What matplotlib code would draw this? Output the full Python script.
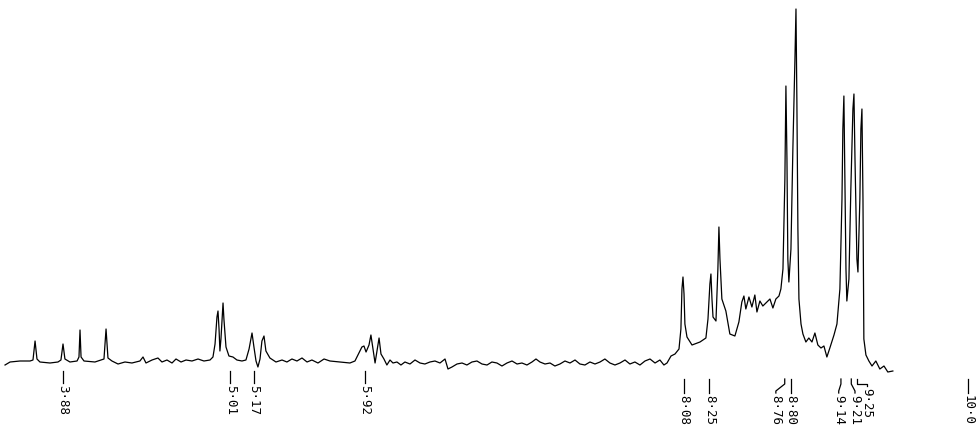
import matplotlib
matplotlib.use("Agg")
import matplotlib.pyplot as plt

# spectrum trace: chemical shift (ppm) and intensity (baseline = 0)
shift = [3.488, 3.522, 3.589, 3.657, 3.677, 3.691, 3.704, 3.724, 3.792, 3.846,
         3.866, 3.880, 3.893, 3.927, 3.975, 3.988, 3.995, 4.002, 4.022, 4.096,
         4.157, 4.171, 4.184, 4.211, 4.252, 4.299, 4.346, 4.400, 4.421, 4.441,
         4.482, 4.522, 4.549, 4.583, 4.617, 4.644, 4.678, 4.712, 4.752, 4.793,
         4.833, 4.874, 4.894, 4.908, 4.921, 4.928, 4.935, 4.941, 4.948, 4.962,
         4.968, 4.982, 5.002, 5.029, 5.056, 5.090, 5.117, 5.138, 5.158, 5.171,
         5.185, 5.198, 5.212, 5.225, 5.239, 5.252, 5.279, 5.320, 5.361, 5.394,
         5.428, 5.462, 5.496, 5.530, 5.563, 5.604, 5.645, 5.685, 5.753, 5.820,
         5.854, 5.874, 5.901, 5.915, 5.929, 5.949, 5.962, 5.976, 5.990, 6.003,
         6.017, 6.030, 6.050, 6.070, 6.091, 6.111, 6.138, 6.165, 6.192, 6.226,
         6.260, 6.294, 6.327, 6.361, 6.395, 6.429, 6.463, 6.483, 6.510, 6.544,
         6.578, 6.611, 6.645, 6.679, 6.713, 6.747, 6.780, 6.814, 6.848, 6.882,
         6.916, 6.950, 6.983, 7.017, 7.051, 7.078, 7.105, 7.139, 7.173, 7.206,
         7.240, 7.274, 7.308, 7.342, 7.375, 7.409, 7.443, 7.477, 7.511, 7.544,
         7.578, 7.612, 7.646, 7.680, 7.713, 7.747, 7.781, 7.815, 7.849, 7.883,
         7.916, 7.943, 7.964, 7.991, 8.018, 8.045, 8.058, 8.065, 8.072, 8.079,
         8.085, 8.099, 8.133, 8.187, 8.227, 8.241, 8.254, 8.261, 8.268, 8.275,
         8.295, 8.308, 8.315, 8.322, 8.335, 8.362, 8.389, 8.423, 8.450, 8.470,
         8.484, 8.497, 8.518, 8.538, 8.558, 8.572, 8.592, 8.612, 8.633, 8.660,
         8.680, 8.700, 8.721, 8.734, 8.748, 8.761, 8.768, 8.775, 8.781, 8.788,
         8.802, 8.815, 8.829, 8.836, 8.842, 8.849, 8.856, 8.870, 8.883, 8.903,
         8.923, 8.944, 8.964, 8.984, 9.005, 9.025, 9.045, 9.065, 9.093, 9.113,
         9.133, 9.147, 9.153, 9.160, 9.167, 9.174, 9.180, 9.194, 9.207, 9.221,
         9.228, 9.235, 9.248, 9.255, 9.268, 9.275, 9.282, 9.289, 9.295, 9.309,
         9.329, 9.350, 9.376, 9.403, 9.431, 9.457, 9.491]
intensity = [-4, -1, 0, 0, 1, 20, 2, -1, -2, -1,
             1, 17, 2, -1, 0, 4, 31, 4, 0, -1,
             2, 32, 3, 0, -3, -1, -2, 0, 4, -2,
             1, 3, -1, 1, -2, 2, -1, 1, 0, 2,
             0, 1, 4, 17, 44, 50, 32, 10, 22, 58,
             42, 14, 5, 4, 1, 0, 1, 12, 28, 14,
             0, -6, 2, 20, 25, 10, 3, -1, 1, -1,
             2, 0, 3, -1, 1, -2, 2, 0, -1, -2,
             0, 6, 14, 15, 9, 16, 26, 12, -2, 10,
             23, 7, 2, -4, 1, -2, -1, -4, -1, -3,
             1, -2, -3, -1, 0, -2, 2, -8, -6, -3,
             -2, -4, -1, 0, -3, -4, -1, -2, -5, -2,
             0, -3, -2, -4, -1, 2, -1, -3, -2, -5,
             -3, 0, -2, 1, -3, -4, -1, -3, -1, 2,
             -2, -4, -2, 1, -3, -1, -4, 0, 2, -2,
             1, -4, -2, 5, 7, 12, 32, 72, 84, 67,
             37, 24, 16, 19, 23, 42, 77, 87, 62, 44,
             40, 92, 134, 102, 62, 50, 27, 25, 39, 59,
             65, 52, 64, 54, 66, 49, 60, 55, 58, 62,
             53, 62, 65, 72, 92, 182, 275, 202, 102, 79,
             112, 212, 302, 352, 262, 132, 62, 37, 27, 19,
             23, 19, 28, 16, 13, 15, 4, 13, 26, 37,
             72, 162, 232, 265, 182, 92, 60, 82, 172, 252,
             267, 202, 102, 89, 162, 232, 252, 162, 22, 6,
             0, -5, 0, -8, -5, -11, -10]

# peak labels
label_ppm = [3.88, 5.01, 5.17, 5.92, 8.08, 8.25, 8.76, 8.80, 9.14, 9.21, 9.25, 10.0]
label_text = ["3·88", "5·01", "5·17", "5·92", "8·08", "8·25", "8·76", "8·80",
              "9·14", "9·21", "9·25", "10·0"]

fig = plt.figure(figsize=(9.77, 4.31), dpi=100)
ax = fig.add_axes([0, 0, 1, 1])
ax.set_xlim(3.454, 10.06)
ax.set_ylim(-69, 362)
ax.axis("off")

ax.plot(shift, intensity, color="black", lw=0.9, solid_joinstyle="round")

# where crowded labels are pushed sideways, the tick bends to the text
shifted = {"8·76": 8.700, "9·14": 9.125, "9·21": 9.235, "9·25": 9.315}
font = dict(rotation=-90, ha="center", va="top", fontsize=9,
            family="DejaVu Sans Mono", color="black")

for p, t in zip(label_ppm, label_text):
    if p < 7:
        top, bot = -10, -22
    elif t == "9·25":
        top, bot = -18, -25
    else:
        top, bot = -18, -32
    if t in shifted:
        q = shifted[t]
        ax.plot([p, p, q, q], [top, top - 5, bot + 2, bot], color="black", lw=0.9)
        ax.text(q, bot - 1, t, **font)
        continue
    ax.plot([p, p], [top, bot], color="black", lw=0.9)
    ax.text(p, bot - 1, t, **font)

fig.savefig("out.png", dpi=100)
